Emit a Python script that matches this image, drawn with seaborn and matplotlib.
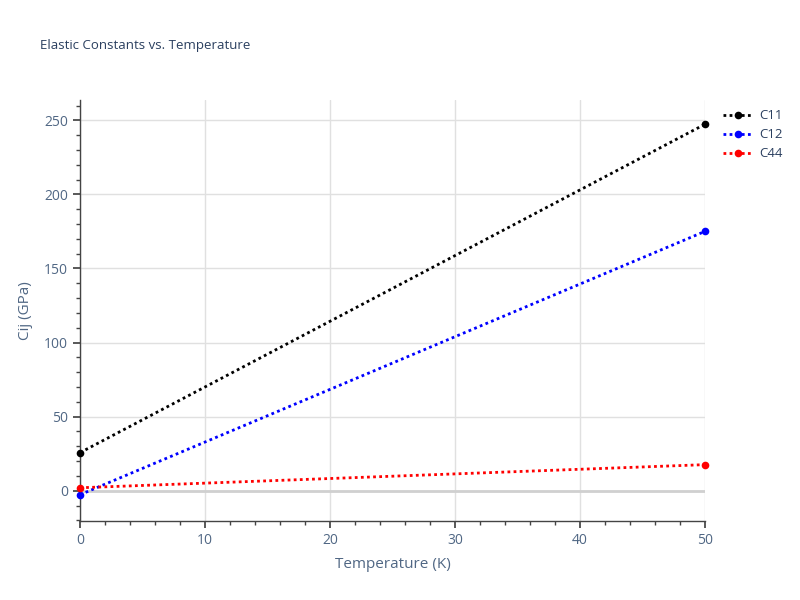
import numpy as np
import pandas as pd
import matplotlib.pyplot as plt
import seaborn as sns
from matplotlib.ticker import MultipleLocator

# datos
temperatura = [0, 50]
c11 = [25.7, 247.3]
c12 = [-2.7, 175.0]
c44 = [2.0, 17.6]
nombres = ["C11", "C12", "C44"]
colores = ["black", "blue", "red"]

df = pd.DataFrame({
    "T": temperatura * 3,
    "Cij": c11 + c12 + c44,
    "serie": [n for n in nombres for _ in temperatura],
})

sns.set_theme(style="white")
plt.rcParams['font.family'] = ['Open Sans', 'DejaVu Sans']

fig = plt.figure(figsize=(8, 6), dpi=100)
ax = fig.add_axes([0.1, 0.132, 0.781, 0.702])

sns.lineplot(data=df, x="T", y="Cij", hue="serie", palette=colores,
             marker="o", markersize=5.5, markeredgewidth=0, linestyle=(0, (1, 1.2)),
             linewidth=2, ax=ax, legend=True, clip_on=False, zorder=3)

ax.set_xlim(0, 50)
ax.set_ylim(-20.3, 264)
ax.xaxis.set_major_locator(MultipleLocator(10))
ax.xaxis.set_minor_locator(MultipleLocator(2))
ax.yaxis.set_major_locator(MultipleLocator(50))
ax.yaxis.set_minor_locator(MultipleLocator(10))
ax.grid(True, which="major", color="#e0e0e0", linewidth=1)
ax.axhline(0, color="#d0d0d0", linewidth=2, zorder=1)

for s in ["top", "right"]:
    ax.spines[s].set_visible(False)
for s in ["left", "bottom"]:
    ax.spines[s].set_color("#444444")
    ax.spines[s].set_linewidth(1)

textc = "#2a3f5f"
ax.tick_params(which="major", direction="out", length=5, color="#444444",
               labelsize=10, labelcolor="#506784", left=True, bottom=True)
ax.tick_params(which="minor", direction="out", length=3, color="#444444",
               left=True, bottom=True)
ax.set_xlabel("Temperature (K)", fontsize=11, color="#506784", labelpad=7)
ax.set_ylabel("Cij (GPa)", fontsize=11, color="#506784", labelpad=8)

fig.text(0.05, 0.918, "Elastic Constants vs. Temperature", fontsize=9.5, color=textc)

leg = ax.legend(loc="upper left", bbox_to_anchor=(1.01, 1.005), frameon=False,
                fontsize=9.5, handlelength=2.3, labelspacing=0.45,
                handletextpad=0.45)
for t in leg.get_texts():
    t.set_color(textc)

fig.savefig("out.png", dpi=100)
